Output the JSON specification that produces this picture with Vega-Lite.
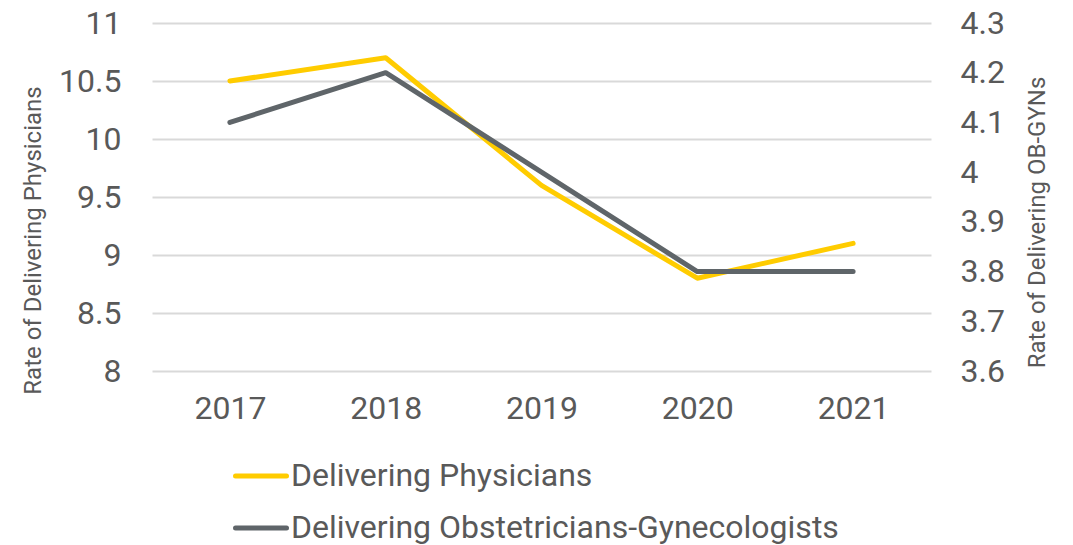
{
  "$schema": "https://vega.github.io/schema/vega-lite/v6.json",
  "width": 779,
  "height": 348,
  "autosize": {"type": "none"},
  "padding": {"left": 152, "top": 23, "right": 142, "bottom": 174},
  "background": "white",
  "config": {
    "font": "Roboto",
    "view": {"stroke": null},
    "axis": {
      "labelColor": "#595959",
      "titleColor": "#595959",
      "labelFont": "Roboto",
      "titleFont": "Roboto",
      "titleFontWeight": "normal",
      "ticks": false,
      "tickSize": 0,
      "domain": false
    }
  },
  "data": {
    "values": [
      {"year": "2017", "series": "Delivering Physicians", "value": 10.5},
      {"year": "2018", "series": "Delivering Physicians", "value": 10.7},
      {"year": "2019", "series": "Delivering Physicians", "value": 9.6},
      {"year": "2020", "series": "Delivering Physicians", "value": 8.8},
      {"year": "2021", "series": "Delivering Physicians", "value": 9.1},
      {"year": "2017", "series": "Delivering Obstetricians-Gynecologists", "value": 4.1},
      {"year": "2018", "series": "Delivering Obstetricians-Gynecologists", "value": 4.2},
      {"year": "2019", "series": "Delivering Obstetricians-Gynecologists", "value": 4.0},
      {"year": "2020", "series": "Delivering Obstetricians-Gynecologists", "value": 3.8},
      {"year": "2021", "series": "Delivering Obstetricians-Gynecologists", "value": 3.8}
    ]
  },
  "encoding": {
    "x": {
      "field": "year",
      "type": "ordinal",
      "scale": {"type": "point", "padding": 0.5},
      "axis": {"title": null, "labelAngle": 0, "labelFontSize": 32, "labelPadding": 22, "grid": false}
    },
    "color": {
      "field": "series",
      "type": "nominal",
      "scale": {
        "domain": ["Delivering Physicians", "Delivering Obstetricians-Gynecologists"],
        "range": ["#FFCC00", "#5F6569"]
      },
      "legend": {
        "title": null,
        "orient": "none",
        "legendX": 81,
        "legendY": 425,
        "direction": "vertical",
        "padding": 0,
        "symbolType": "stroke",
        "symbolSize": 2601,
        "symbolStrokeWidth": 5,
        "labelFontSize": 32,
        "labelColor": "#595959",
        "labelFont": "Roboto",
        "labelOffset": 2,
        "labelLimit": 800,
        "rowPadding": 8,
        "encode": {"symbols": {"update": {"strokeCap": {"value": "round"}}}}
      }
    }
  },
  "layer": [
    {
      "transform": [{"filter": "datum.series === 'Delivering Physicians'"}],
      "mark": {"type": "line", "strokeWidth": 5, "strokeCap": "round", "strokeJoin": "round"},
      "encoding": {
        "y": {
          "field": "value",
          "type": "quantitative",
          "scale": {"domain": [8, 11], "nice": false, "zero": false},
          "axis": {
            "orient": "left",
            "values": [8, 8.5, 9, 9.5, 10, 10.5, 11],
            "format": "~g",
            "labelFontSize": 32,
            "labelPadding": 31,
            "grid": true,
            "gridColor": "#D9D9D9",
            "gridWidth": 2,
            "title": "Rate of Delivering Physicians",
            "titleFontSize": 24,
            "titleAngle": -90,
            "titleAlign": "center",
            "titleBaseline": "middle",
            "titleX": -119,
            "titleY": 217
          }
        }
      }
    },
    {
      "transform": [{"filter": "datum.series === 'Delivering Obstetricians-Gynecologists'"}],
      "mark": {"type": "line", "strokeWidth": 5, "strokeCap": "round", "strokeJoin": "round"},
      "encoding": {
        "y": {
          "field": "value",
          "type": "quantitative",
          "scale": {"domain": [3.6, 4.3], "nice": false, "zero": false},
          "axis": {
            "orient": "right",
            "values": [3.6, 3.7, 3.8, 3.9, 4.0, 4.1, 4.2, 4.3],
            "format": "~g",
            "labelFontSize": 32,
            "labelPadding": 29,
            "grid": false,
            "title": "Rate of Delivering OB-GYNs",
            "titleFontSize": 24,
            "titleAngle": -90,
            "titleAlign": "center",
            "titleBaseline": "middle",
            "titleX": 106,
            "titleY": 199
          }
        }
      }
    }
  ],
  "resolve": {"scale": {"y": "independent"}}
}
